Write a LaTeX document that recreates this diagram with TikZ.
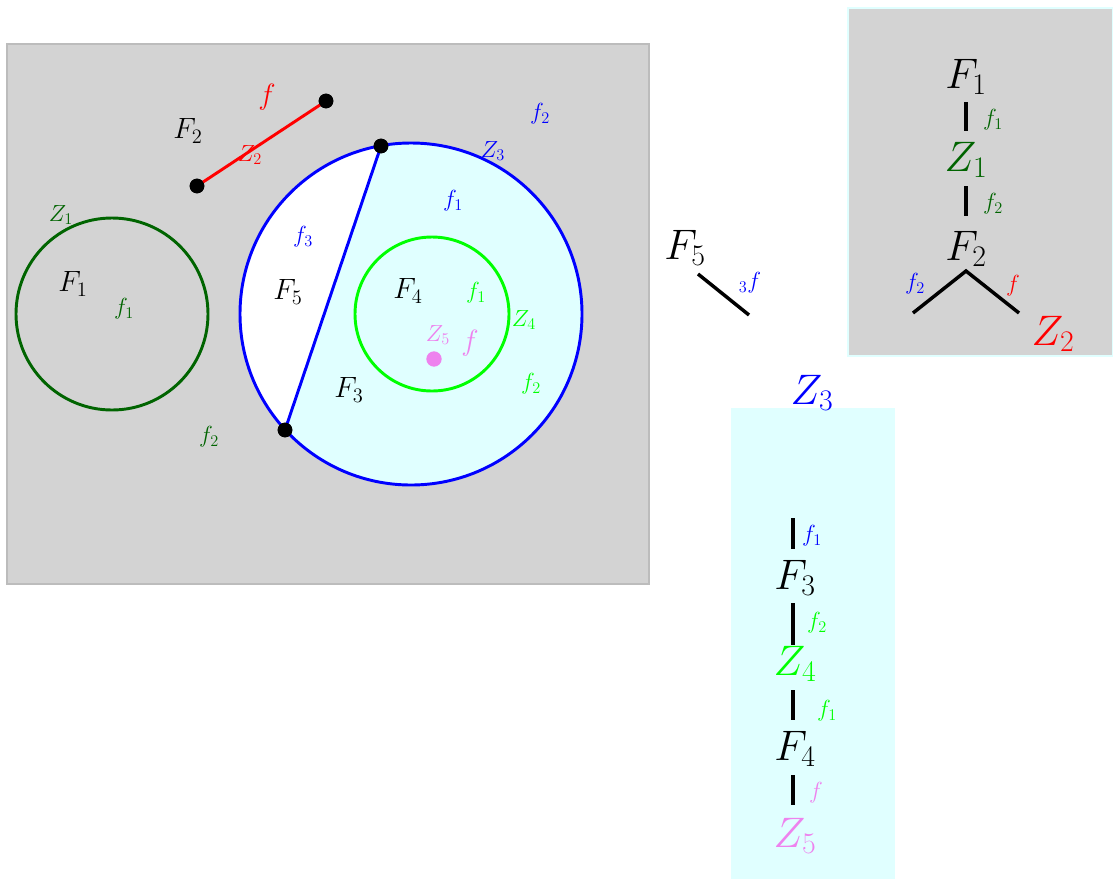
\documentclass[tikz,border=0pt]{standalone}
\usepackage{fix-cm}
\definecolor{lgray}{RGB}{211,211,211}
\definecolor{lcyan}{RGB}{224,255,255}
\definecolor{dgreen}{RGB}{0,100,0}
\definecolor{vio}{RGB}{238,130,238}
\definecolor{bgray}{RGB}{188,188,188}
\begin{document}
\begin{tikzpicture}[x=0.75pt,y=-0.75pt,
 lab/.style={inner sep=0pt, font=\fontsize{22}{26}\selectfont},
 sm/.style={inner sep=0pt, font=\fontsize{17.5}{20}\selectfont},
 big/.style={inner sep=0pt, font=\fontsize{32}{38}\selectfont},
 dot/.style={circle, fill=black, inner sep=0pt, minimum size=11pt},
 edgeline/.style={line width=2.2pt},
 treeline/.style={line width=2.6pt}]
\useasboundingbox (0,0) rectangle (1113,879);
% panels
\draw[fill=lgray, draw=bgray, line width=1.5pt] (7,44) rectangle (649,584);
\draw[fill=lgray, draw=lcyan, line width=1.5pt] (848,8) rectangle (1113,356);
\fill[lcyan] (731,408) rectangle (895,879);
% big circle Z3
\coordinate (c3) at (411,314);
\fill[lcyan] (c3) circle (128.25pt);
\begin{scope}
\clip (c3) circle (128.25pt);
\fill[white] (429,4) -- (237,572) -- (0,572) -- (0,4) -- cycle;
\end{scope}
\draw[blue, edgeline] (c3) circle (128.25pt);
% Z4 circle
\draw[green, edgeline] (432,314) circle (57.75pt);
% Z1 circle
\draw[dgreen, edgeline] (112,314) circle (72pt);
% chord
\node[dot] (p1) at (381,146) {};
\node[dot] (p2) at (285,430) {};
\draw[blue, edgeline] (p1.center) -- (p2.center);
\node[dot] at (381,146) {};
\node[dot] at (285,430) {};
% red segment
\node[dot] (d1) at (197,186) {};
\node[dot] (d2) at (326,101) {};
\draw[red, edgeline] (d1.center) -- (d2.center);
\node[dot] at (197,186) {};
\node[dot] at (326,101) {};
% Z5 dot
\node[circle, fill=vio, inner sep=0pt, minimum size=11.5pt] (z5) at (434,359) {};
% main labels
\node[lab] (mF2) at (188,131) {$F_2$};
\node[lab, red] (mf) at (267,97) {$f$};
\node[sm, red] (mZ2) at (250,155) {$Z_2$};
\node[sm, blue] (mf2b) at (540,114) {$f_2$};
\node[sm, blue] (mZ3) at (493,151) {$Z_3$};
\node[sm, blue] (mf1b) at (453,201) {$f_1$};
\node[sm, blue] (mf3b) at (303,237) {$f_3$};
\node[lab] (mF5) at (288,292) {$F_5$};
\node[lab] (mF4) at (408,291) {$F_4$};
\node[sm, green] (mf1g) at (476,293) {$f_1$};
\node[sm, green] (mZ4) at (524,320) {$Z_4$};
\node[sm, vio] (mZ5) at (438,335) {$Z_5$};
\node[lab, vio] (mfv) at (470,343) {$f$};
\node[sm, green] (mf2g) at (531,384) {$f_2$};
\node[lab] (mF3) at (349,390) {$F_3$};
\node[sm, dgreen] (mZ1) at (61,215) {$Z_1$};
\node[lab] (mF1) at (73,284) {$F_1$};
\node[sm, dgreen] (mf1d) at (124,309) {$f_1$};
\node[sm, dgreen] (mf2d) at (209,437) {$f_2$};
% top-right tree
\node[big] (tF1) at (966,77) {$F_1$};
\node[big, dgreen] (tZ1) at (966,160) {$Z_1$};
\node[big] (tF2) at (966,249) {$F_2$};
\node[big, red] (tZ2) at (1053,334) {$Z_2$};
\node[sm, dgreen] (tf1) at (993,120) {$f_1$};
\node[sm, dgreen] (tf2) at (993,204) {$f_2$};
\node[sm, blue] (tf2b) at (915,284) {$f_2$};
\node[sm, red] (tf) at (1013,286) {$f$};
\coordinate (t1a) at (966,102); \coordinate (t1b) at (966,131);
\coordinate (t2a) at (966,186); \coordinate (t2b) at (966,216);
\coordinate (t3) at (966,271); \coordinate (t3l) at (913,313); \coordinate (t3r) at (1019,313);
\draw[treeline] (t1a) -- (t1b);
\draw[treeline] (t2a) -- (t2b);
\draw[treeline] (t3l) -- (t3) -- (t3r);
% F5 piece
\node[big] (rF5) at (685,248) {$F_5$};
\node[sm, blue] (r3f) at (750,283) {$_3f$};
\coordinate (r5a) at (698,274); \coordinate (r5b) at (749,315);
\draw[treeline] (r5a) -- (r5b);
% bottom tree
\node[big, blue] (bZ3) at (812,393) {$Z_3$};
\node[big] (bF3) at (795,578) {$F_3$};
\node[big, green] (bZ4) at (795,664) {$Z_4$};
\node[big] (bF4) at (795,749) {$F_4$};
\node[big, vio] (bZ5) at (795,836) {$Z_5$};
\node[sm, blue] (bf1) at (812,536) {$f_1$};
\node[sm, green] (bf2) at (817,623) {$f_2$};
\node[sm, green] (bf1g) at (827,711) {$f_1$};
\node[sm, vio] (bfv) at (816,793) {$f$};
\coordinate (b1a) at (793,518); \coordinate (b1b) at (793,549);
\coordinate (b2a) at (793,603); \coordinate (b2b) at (793,645);
\coordinate (b3a) at (793,690); \coordinate (b3b) at (793,720);
\coordinate (b4a) at (793,775); \coordinate (b4b) at (793,805);
\draw[treeline] (b1a) -- (b1b);
\draw[treeline] (b2a) -- (b2b);
\draw[treeline] (b3a) -- (b3b);
\draw[treeline] (b4a) -- (b4b);
\end{tikzpicture}
\end{document}
